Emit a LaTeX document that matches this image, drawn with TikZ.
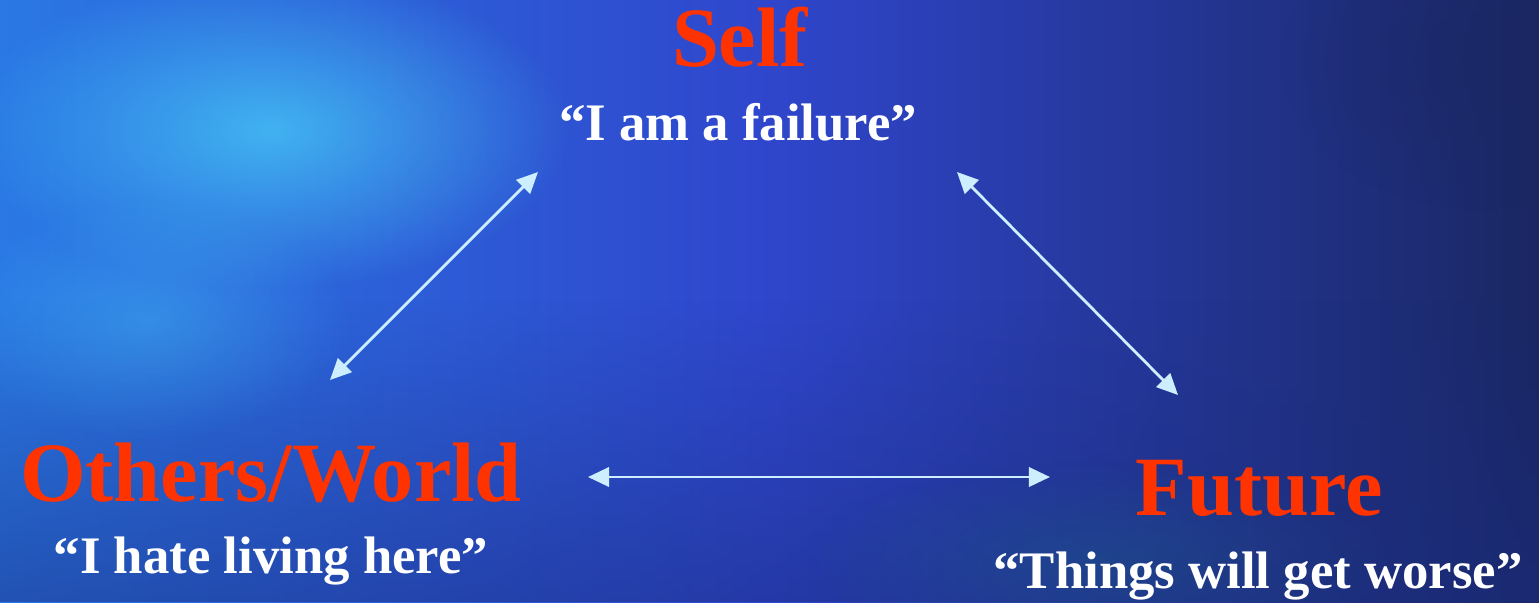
\documentclass[tikz,border=0pt]{standalone}
\usepackage{fontspec}
\setmainfont{Liberation Serif}
\usetikzlibrary{arrows.meta,fadings}
\definecolor{labelred}{HTML}{FF3300}
\definecolor{arrblue}{HTML}{CCEEFF}
\definecolor{bgleft}{HTML}{2A78E4}
\definecolor{bgmid}{HTML}{2F46CC}
\definecolor{bgright}{HTML}{1A2763}
\definecolor{bgcyan}{HTML}{48CCF8}
\definecolor{bgteal}{HTML}{1E5C86}
\definecolor{bgdeep}{HTML}{1A2C80}
\tikzfading[name=soft blob, inner color=transparent!0, outer color=transparent!100]
\tikzfading[name=fade up, bottom color=transparent!30, top color=transparent!100]

\begin{document}
\begin{tikzpicture}[x=0.01cm, y=-0.01cm,
  title/.style={font=\fontsize{24}{28}\selectfont\bfseries, text=labelred, inner sep=0pt, anchor=base},
  quote/.style={font=\fontsize{15}{18}\selectfont\bfseries, text=white, inner sep=0pt, anchor=base},
  arr/.style={{Triangle[length=6pt,width=5.5pt]}-{Triangle[length=6pt,width=5.5pt]}, line width=0.8pt, draw=arrblue, fill=arrblue}
]
% Background
\useasboundingbox (0,0) rectangle (1539,602);
\shade[left color=bgleft, right color=bgright, middle color=bgmid] (0,0) rectangle (1539,602);
\fill[bgdeep, path fading=fade up, opacity=.7] (0,300) rectangle (1539,602);
\fill[bgcyan, path fading=soft blob, opacity=.75] (270,130) ellipse [x radius=3cm, y radius=1.6cm];
\fill[bgcyan, path fading=soft blob, opacity=.35] (150,320) ellipse [x radius=2cm, y radius=1.2cm];
\fill[bgteal, path fading=soft blob, opacity=.4] (1100,560) ellipse [x radius=3cm, y radius=1cm];
\fill[bgright, path fading=soft blob, opacity=.5] (1480,60) ellipse [x radius=2cm, y radius=1.5cm];

% Self
\node[title] (self) at (740,66) {Self};
\node[quote] (selfq) at (738,140) {“I am a failure”};

% Others / World
\node[title] (world) at (271,501) {Others/World};
\node[quote] (worldq) at (271,573) {“I hate living here”};

% Future
\node[title] (future) at (1259,515) {Future};
\node[quote] (futureq) at (1258,588) {“Things will get worse”};

% Arrow ends
\coordinate (sw) at (538,172);
\coordinate (ws) at (330,380);
\coordinate (sf) at (957,172);
\coordinate (fs) at (1178,395);
\coordinate (wf) at (588,477);
\coordinate (fw) at (1050,477);

% Arrows
\draw[arr] (ws) -- (sw);
\draw[arr] (sf) -- (fs);
\draw[arr] (wf) -- (fw);
\end{tikzpicture}
\end{document}
